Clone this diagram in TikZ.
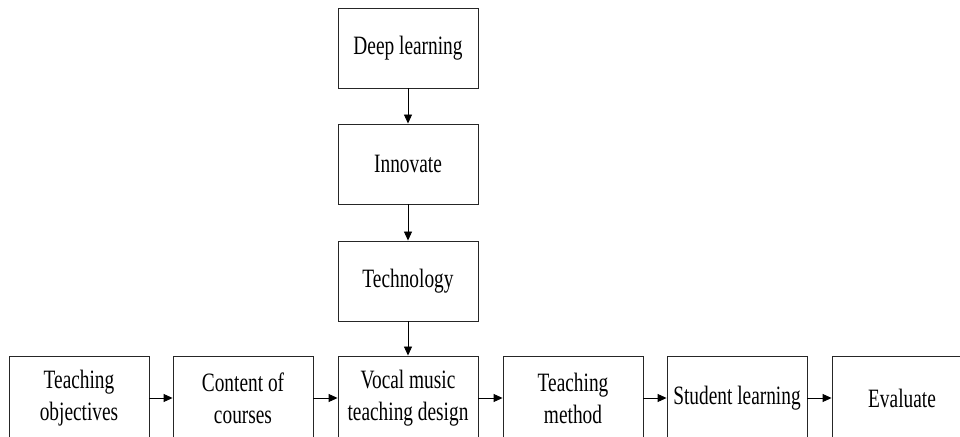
\documentclass[tikz,border=0pt]{standalone}
\usepackage{fontspec}
\setmainfont{Liberation Serif}[FakeStretch=0.73]
\usetikzlibrary{arrows.meta}
\tikzset{
  box/.style={draw=black!85, line width=0.9pt, minimum width=140pt, minimum height=80pt,
    inner sep=0pt, align=center, font=\fontsize{26.5}{32}\selectfont},
  lowbox/.style={box, minimum height=84pt},
  arr/.style={draw=black, line width=0.9pt, -{Triangle[length=9pt,width=8pt]}}
}
\begin{document}
\begin{tikzpicture}[x=1pt,y=1pt]
\useasboundingbox (0,0) rectangle (960,436);
\clip (0,0) rectangle (960,436);
\node[box] (deep) at (408,388) {Deep learning};
\node[box] (innov) at (408,272) {Innovate};
\node[box] (tech) at (408,155) {Technology};
\node[lowbox] (obj) at (79,38) {Teaching\\objectives};
\node[lowbox] (cont) at (243,38) {Content of\\courses};
\node[lowbox] (vocal) at (408,38) {Vocal music\\teaching design};
\node[lowbox] (meth) at (573,38) {Teaching\\method};
\node[lowbox] (stud) at (737,38) {Student learning};
\node[lowbox] (eval) at (902,38) {Evaluate};
\draw[arr] (deep) -- (innov);
\draw[arr] (innov) -- (tech);
\draw[arr] (tech) -- (vocal);
\draw[arr] (obj) -- (cont);
\draw[arr] (cont) -- (vocal);
\draw[arr] (vocal) -- (meth);
\draw[arr] (meth) -- (stud);
\draw[arr] (stud) -- (eval);
\end{tikzpicture}
\end{document}
